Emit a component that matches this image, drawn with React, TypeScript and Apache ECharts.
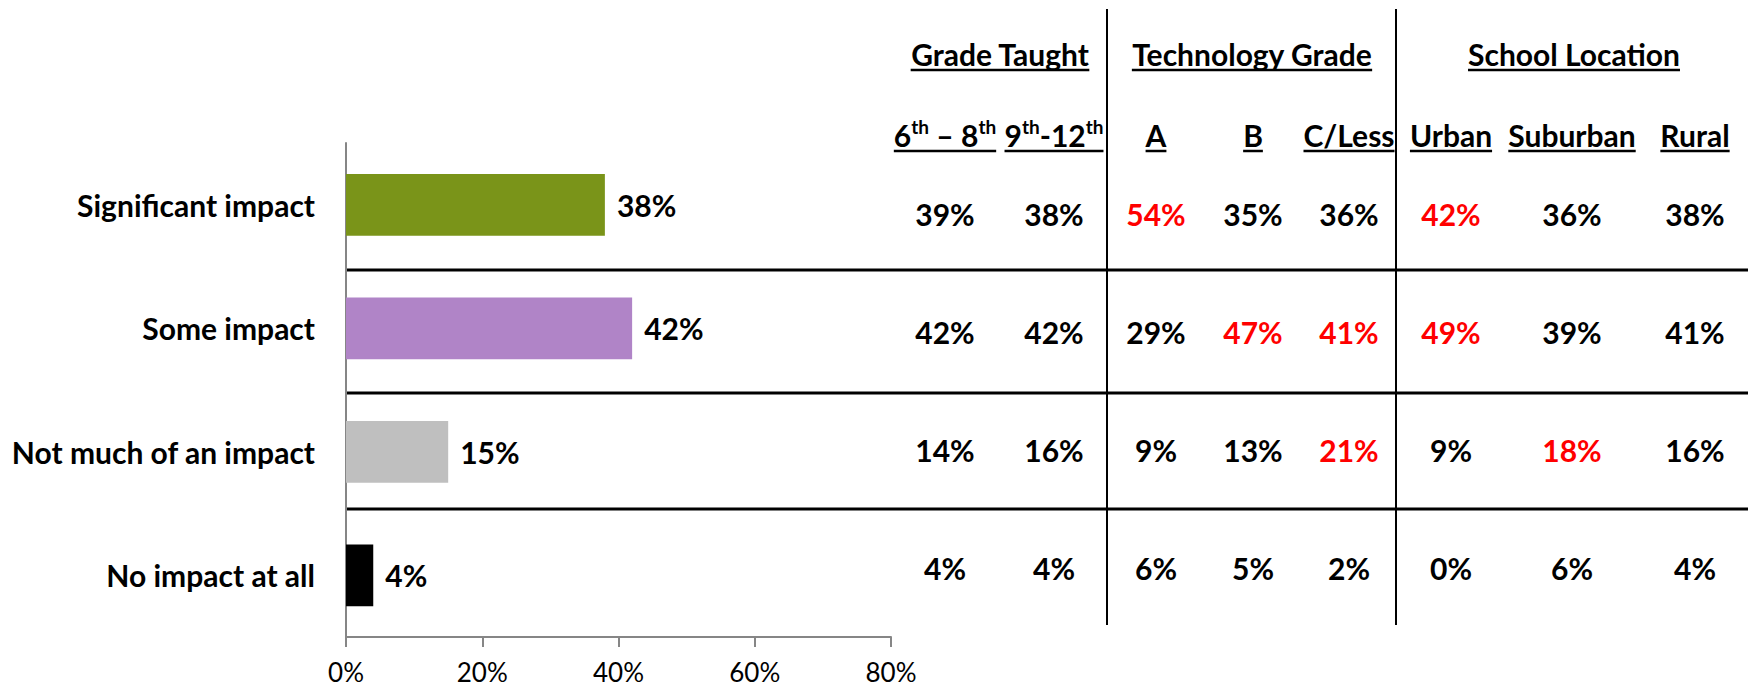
import React, { useEffect, useRef } from "react";
import * as echarts from "echarts";

const categories = ["Significant impact", "Some impact", "Not much of an impact", "No impact at all"];
const overall = [38, 42, 15, 4];
const barColors = ["#7A9419", "#B084C7", "#BFBFBF", "#000000"];
const xTicks = [0, 20, 40, 60, 80];

const groupHeaders = ["Grade Taught", "Technology Grade", "School Location"];
// sub-header parts: [text, isSuperscript]
const subHeaders: [string, boolean][][] = [
  [["6", false], ["th", true], [" – 8", false], ["th", true]],
  [["9", false], ["th", true], ["-12", false], ["th", true]],
  [["A", false]],
  [["B", false]],
  [["C/Less", false]],
  [["Urban", false]],
  [["Suburban", false]],
  [["Rural", false]],
];

const grade68 = [39, 42, 14, 4];
const grade912 = [38, 42, 16, 4];
const techA = [54, 29, 9, 6];
const techB = [35, 47, 13, 5];
const techC = [36, 41, 21, 2];
const urban = [42, 49, 9, 0];
const suburban = [36, 39, 18, 6];
const rural = [38, 41, 16, 4];
const columns = [grade68, grade912, techA, techB, techC, urban, suburban, rural];

const red68 = [false, false, false, false];
const red912 = [false, false, false, false];
const redA = [true, false, false, false];
const redB = [false, true, false, false];
const redC = [false, true, true, false];
const redUrban = [true, true, false, false];
const redSuburban = [false, false, true, false];
const redRural = [false, false, false, false];
const redFlags = [red68, red912, redA, redB, redC, redUrban, redSuburban, redRural];

// layout
const FONT = "Lato, 'Open Sans', sans-serif";
const BOLD_SIZE = 30;
const SUP_SIZE = 19;
const colX = [945, 1054, 1156, 1253, 1349, 1451, 1572, 1695];
const groupX = [1000, 1252, 1574];
const rowY = [214, 332, 450, 568];
const hLineY = [270, 393, 509];
const vLineX = [1107, 1396];
const headerY = 54;
const headerUnderlineY = 70;
const subY = 133;
const subUnderlineY = 151;

function measure(text: string, size: number): number {
  const c = document.createElement("canvas").getContext("2d")!;
  c.font = `bold ${size}px ${FONT}`;
  return c.measureText(text).width;
}

export default function App() {
  const ref = useRef<HTMLDivElement>(null);
  useEffect(() => {
    if (!ref.current) return;
    const chart = echarts.init(ref.current, undefined, { renderer: "svg" });

    const graphics: any[] = [];
    // horizontal separators
    hLineY.forEach((y) =>
      graphics.push({
        type: "line",
        shape: { x1: 346, y1: y, x2: 1748, y2: y },
        style: { stroke: "#000", lineWidth: 3 },
        silent: true,
      })
    );
    vLineX.forEach((x) =>
      graphics.push({
        type: "line",
        shape: { x1: x, y1: 9, x2: x, y2: 625 },
        style: { stroke: "#000", lineWidth: 2 },
        silent: true,
      })
    );
    // group headers
    groupHeaders.forEach((h, i) => {
      const w = measure(h, BOLD_SIZE);
      graphics.push({
        type: "text",
        x: groupX[i],
        y: headerY,
        style: {
          text: h,
          fontFamily: FONT,
          fontWeight: "bold",
          fontSize: BOLD_SIZE,
          fill: "#000",
          align: "center",
          verticalAlign: "middle",
        },
      });
      graphics.push({
        type: "line",
        shape: { x1: groupX[i] - w / 2, y1: headerUnderlineY, x2: groupX[i] + w / 2, y2: headerUnderlineY },
        style: { stroke: "#000", lineWidth: 2.5 },
      });
    });
    // sub headers
    subHeaders.forEach((parts, i) => {
      let w = 0;
      parts.forEach(([t, sup]) => (w += measure(t, sup ? SUP_SIZE : BOLD_SIZE)));
      const text = parts.map(([t, sup]) => `{${sup ? "s" : "m"}|${t}}`).join("");
      graphics.push({
        type: "text",
        x: colX[i],
        y: subY,
        style: {
          text,
          align: "center",
          verticalAlign: "middle",
          rich: {
            m: { fontFamily: FONT, fontWeight: "bold", fontSize: BOLD_SIZE, fill: "#000", verticalAlign: "bottom", lineHeight: 33 },
            s: { fontFamily: FONT, fontWeight: "bold", fontSize: SUP_SIZE, fill: "#000", verticalAlign: "top", lineHeight: 22 },
          },
        },
      });
      graphics.push({
        type: "line",
        shape: { x1: colX[i] - w / 2, y1: subUnderlineY, x2: colX[i] + w / 2, y2: subUnderlineY },
        style: { stroke: "#000", lineWidth: 2.5 },
      });
    });
    // table values
    columns.forEach((col, ci) => {
      col.forEach((v, ri) => {
        graphics.push({
          type: "text",
          x: colX[ci],
          y: rowY[ri],
          style: {
            text: `${v}%`,
            fontFamily: FONT,
            fontWeight: "bold",
            fontSize: BOLD_SIZE,
            fill: redFlags[ci][ri] ? "#FF0000" : "#000",
            align: "center",
            verticalAlign: "middle",
          },
        });
      });
    });

    chart.setOption({
      animation: false,
      backgroundColor: "#fff",
      grid: { left: 346, right: 857, top: 143, bottom: 53, containLabel: false },
      xAxis: {
        type: "value",
        min: xTicks[0],
        max: xTicks[xTicks.length - 1],
        interval: xTicks[1] - xTicks[0],
        axisLine: { show: true, lineStyle: { color: "#868686", width: 2 } },
        axisTick: { show: true, length: 10, lineStyle: { color: "#868686", width: 2 } },
        splitLine: { show: false },
        axisLabel: {
          formatter: "{value}%",
          fontFamily: FONT,
          fontSize: 26,
          color: "#000",
          margin: 22,
        },
      },
      yAxis: {
        type: "category",
        inverse: true,
        data: categories,
        axisLine: { show: true, lineStyle: { color: "#868686", width: 2 } },
        axisTick: { show: false },
        axisLabel: {
          fontFamily: FONT,
          fontWeight: "bold",
          fontSize: BOLD_SIZE,
          color: "#000",
          margin: 31,
        },
      },
      series: [
        {
          type: "bar",
          barWidth: "50%",
          data: overall.map((v, i) => ({ value: v, itemStyle: { color: barColors[i] } })),
          label: {
            show: true,
            position: "right",
            distance: 12,
            formatter: "{c}%",
            fontFamily: FONT,
            fontWeight: "bold",
            fontSize: BOLD_SIZE,
            color: "#000",
          },
        },
      ],
      graphic: graphics,
    });
    return () => chart.dispose();
  }, []);
  return <div ref={ref} style={{ position: "fixed", left: 0, top: 0, width: 1748, height: 690 }} />;
}
